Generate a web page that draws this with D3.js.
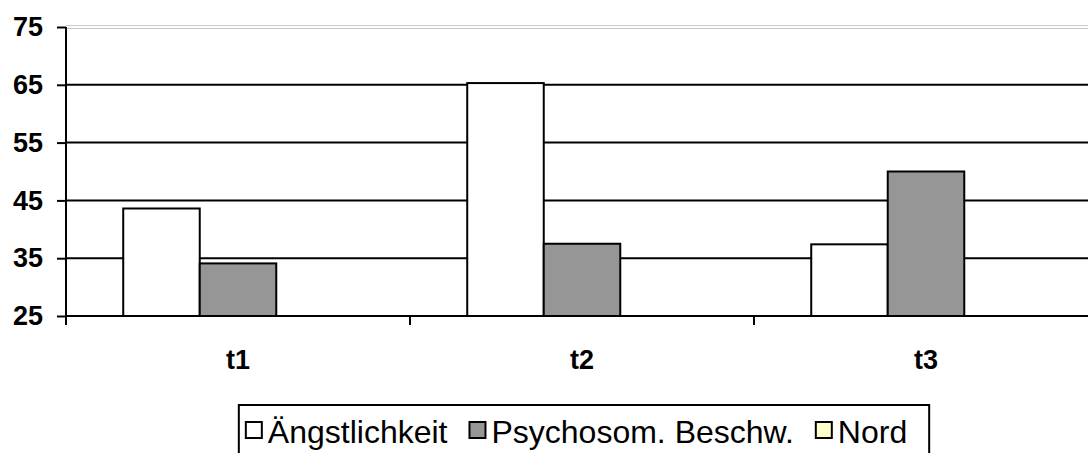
<!DOCTYPE html>
<html><head><meta charset="utf-8">
<script src="https://cdn.jsdelivr.net/npm/d3@7"></script>
<style>body{margin:0;background:#fff}svg{display:block}</style>
</head><body>
<svg id="c" width="1088" height="453"></svg>
<script>
const categories = ["t1", "t2", "t3"];
const seriesNames = ["Ängstlichkeit", "Psychosom. Beschw.", "Nord"];
const angst = [43.6, 65.3, 37.4];
const psycho = [34.1, 37.5, 50.0];
const nord = [null, null, null];
const yTicks = [25, 35, 45, 55, 65, 75];
const colors = ["#ffffff", "#969696", "#ffffcc"];

(function () {
const series = [angst, psycho, nord];
const svg = d3.select("#c");
const font = "Arial, 'Liberation Sans', sans-serif";
const pLeft = 66, pRight = 1098, pTop = 27, pBottom = 316;

const y = d3.scaleLinear().domain([25, 75]).range([pBottom, pTop]);
const x = d3.scaleBand().domain(categories).range([pLeft, pRight]).paddingInner(0).paddingOuter(0);
const xs = d3.scaleBand().domain(d3.range(3)).range([0, x.bandwidth()]).paddingInner(0).paddingOuter(0.748);

// gridlines
yTicks.forEach(t => {
  if (t === 75) {
    [-1.5, 1.5].forEach(o => svg.append("line").attr("x1", pLeft).attr("x2", 1088)
      .attr("y1", y(t) + o).attr("y2", y(t) + o).attr("stroke", "#c8c8c8").attr("stroke-width", 1));
  } else if (t !== 25) {
    svg.append("line").attr("x1", pLeft).attr("x2", 1088).attr("y1", y(t)).attr("y2", y(t))
      .attr("stroke", "#000").attr("stroke-width", 2);
  }
});

// bars
series.forEach((vals, si) => {
  categories.forEach((c, ci) => {
    const v = vals[ci];
    if (v == null) return;
    svg.append("rect")
      .attr("x", x(c) + xs(si)).attr("width", xs.bandwidth())
      .attr("y", y(v)).attr("height", y(25) - y(v))
      .attr("fill", colors[si]).attr("stroke", "#000").attr("stroke-width", 2);
  });
});

// y axis
const ya = svg.append("g").attr("transform", `translate(${pLeft},0)`)
  .call(d3.axisLeft(y).tickValues(yTicks).tickSize(9).tickPadding(14));
ya.select(".domain").attr("stroke", "#000").attr("stroke-width", 2).attr("d", `M0,${pTop}V${pBottom}`);
ya.selectAll(".tick line").attr("stroke", "#000").attr("stroke-width", 2);
ya.selectAll(".tick text").attr("font-family", font).attr("font-weight", "bold")
  .attr("font-size", 27).attr("fill", "#000");

// x axis
const xa = svg.append("g").attr("transform", `translate(0,${pBottom})`);
xa.append("line").attr("x1", pLeft).attr("x2", 1088).attr("y1", 0).attr("y2", 0)
  .attr("stroke", "#000").attr("stroke-width", 2);
categories.concat(["_end"]).forEach((c, i) => {
  const px = i < 3 ? x(c) : pRight;
  xa.append("line").attr("x1", px).attr("x2", px).attr("y1", 0).attr("y2", 9)
    .attr("stroke", "#000").attr("stroke-width", 2);
});
categories.forEach(c => {
  xa.append("text").attr("x", x(c) + x.bandwidth() / 2).attr("y", 53)
    .attr("text-anchor", "middle").attr("font-family", font).attr("font-weight", "bold")
    .attr("font-size", 27).attr("fill", "#000").text(c);
});

// legend
const lg = svg.append("g");
const fs = 32, sw = 16, padL = 7, padR = 22, gapST = 6, gapItem = 22;
let cx = padL;
seriesNames.forEach((n, i) => {
  const sx = cx;
  const tx = sx + sw + gapST;
  const t = lg.append("text").attr("x", tx).attr("y", 443).attr("font-family", font).attr("font-size", fs)
    .attr("fill", "#000").text(n);
  const w = t.node().getComputedTextLength();
  lg.append("rect").attr("x", sx).attr("y", 422).attr("width", sw).attr("height", sw)
    .attr("fill", colors[i]).attr("stroke", "#000").attr("stroke-width", 2);
  cx = tx + w + gapItem;
});
const totalW = cx - gapItem + padR;
lg.insert("rect", ":first-child").attr("x", 0).attr("y", 405).attr("width", totalW).attr("height", 80)
  .attr("fill", "#fff").attr("stroke", "#000").attr("stroke-width", 2);
lg.attr("transform", `translate(${584 - totalW / 2},0)`);
})();
</script>
</body></html>
